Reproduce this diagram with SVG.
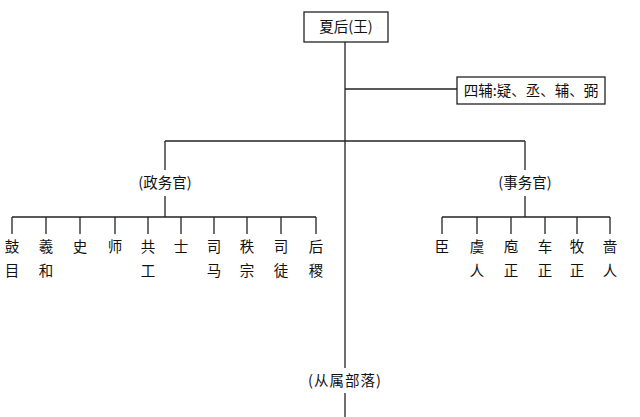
<svg xmlns="http://www.w3.org/2000/svg" width="640" height="417" viewBox="0 0 640 417">
<style>
line{stroke:#222;stroke-width:1.3}
rect.box{fill:#fff;stroke:#222;stroke-width:1.3}
text{font-family:"Noto Sans CJK SC","Liberation Serif",serif;font-size:14.5px;fill:#111;text-anchor:middle}
</style>
<rect width="640" height="417" style="fill:#fff;stroke:none"/>
<g id="connectors">
<line x1="345" y1="42" x2="345" y2="368"/>
<line x1="345" y1="393" x2="345" y2="417"/>
<line x1="345" y1="89" x2="457" y2="89"/>
<line x1="165" y1="141" x2="525" y2="141"/>
<line x1="165" y1="141" x2="165" y2="170"/>
<line x1="525" y1="141" x2="525" y2="170"/>
<line x1="165" y1="196" x2="165" y2="217"/>
<line x1="525" y1="196" x2="525" y2="217"/>
<line x1="12" y1="217" x2="316" y2="217"/>
<line x1="442" y1="217" x2="610" y2="217"/>
<line x1="12" y1="217" x2="12" y2="234"/><line x1="46" y1="217" x2="46" y2="234"/><line x1="80" y1="217" x2="80" y2="234"/><line x1="115" y1="217" x2="115" y2="234"/><line x1="148" y1="217" x2="148" y2="234"/><line x1="181" y1="217" x2="181" y2="234"/><line x1="214" y1="217" x2="214" y2="234"/><line x1="247" y1="217" x2="247" y2="234"/><line x1="281" y1="217" x2="281" y2="234"/><line x1="316" y1="217" x2="316" y2="234"/>
<line x1="442" y1="217" x2="442" y2="234"/><line x1="477" y1="217" x2="477" y2="234"/><line x1="511" y1="217" x2="511" y2="234"/><line x1="545" y1="217" x2="545" y2="234"/><line x1="577" y1="217" x2="577" y2="234"/><line x1="610" y1="217" x2="610" y2="234"/>
</g>
<g id="king"><rect class="box" x="304" y="12" width="84" height="30"/><text x="346" y="32">夏后(王)</text></g>
<g id="sifu"><rect class="box" x="457" y="77" width="148" height="27"/><text x="531" y="96">四辅:疑、丞、辅、弼</text></g>
<g id="zhengwu"><text x="165" y="188">(政务官)</text></g>
<g id="shiwu"><text x="525" y="188">(事务官)</text></g>
<g id="left">
<text x="12" y="252">鼓</text><text x="12" y="276">目</text>
<text x="46" y="252">羲</text><text x="46" y="276">和</text>
<text x="80" y="252">史</text>
<text x="115" y="252">师</text>
<text x="148" y="252">共</text><text x="148" y="276">工</text>
<text x="181" y="252">士</text>
<text x="214" y="252">司</text><text x="214" y="276">马</text>
<text x="247" y="252">秩</text><text x="247" y="276">宗</text>
<text x="281" y="252">司</text><text x="281" y="276">徒</text>
<text x="316" y="252">后</text><text x="316" y="276">稷</text>
</g>
<g id="right">
<text x="442" y="252">臣</text>
<text x="477" y="252">虞</text><text x="477" y="276">人</text>
<text x="511" y="252">庖</text><text x="511" y="276">正</text>
<text x="545" y="252">车</text><text x="545" y="276">正</text>
<text x="577" y="252">牧</text><text x="577" y="276">正</text>
<text x="610" y="252">啬</text><text x="610" y="276">人</text>
</g>
<g id="buluo"><text x="345" y="386" letter-spacing="1">(从属部落)</text></g>
</svg>
